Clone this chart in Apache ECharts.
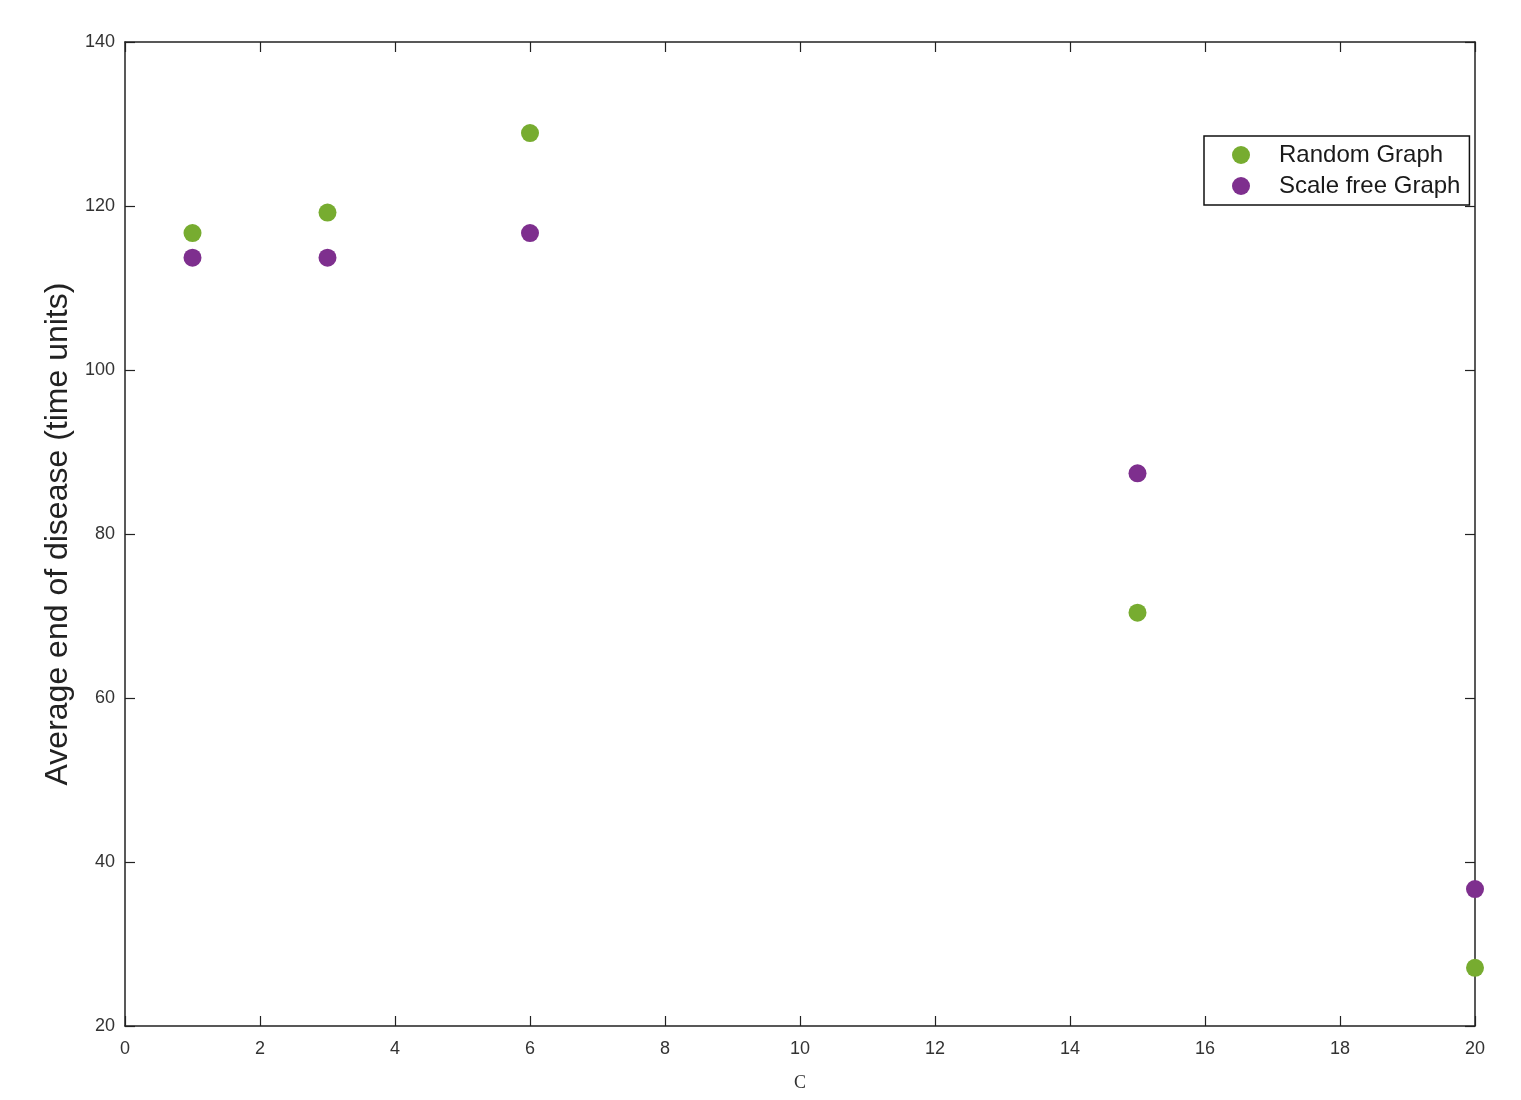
<!DOCTYPE html>
<html>
<head>
<meta charset="utf-8">
<script src="https://cdn.jsdelivr.net/npm/echarts@6/dist/echarts.min.js"></script>
<style>
  html, body { margin: 0; padding: 0; background: #fff; }
  #chart { width: 1521px; height: 1100px; }
</style>
</head>
<body>
<div id="chart"></div>
<script>
// values
const cValues = [1, 3, 6, 15, 20]
const randomGraph = [116.7, 119.2, 128.9, 70.4, 27.1]
const scaleFreeGraph = [113.7, 113.7, 116.7, 87.4, 36.7]

const chart = echarts.init(document.getElementById('chart'))

const tickFont = { fontFamily: 'Liberation Sans, Arial, sans-serif', fontSize: 18, color: '#333' }
const boxLine = { show: true, onZero: false, lineStyle: { color: '#222', width: 1.5 } }
const inTicks = { show: true, inside: true, length: 10, lineStyle: { color: '#222', width: 1.2 } }

function pairs(xs, ys) {
  return xs.map((x, i) => [x, ys[i]])
}

chart.setOption({
  backgroundColor: '#fff',
  animation: false,
  grid: { left: 125, right: 46, top: 42, bottom: 74 },
  legend: {
    orient: 'vertical',
    left: 1204,
    top: 136,
    backgroundColor: '#fff',
    borderColor: '#111',
    borderWidth: 1.5,
    padding: [7, 9, 7, 28],
    itemGap: 7,
    itemWidth: 18,
    itemHeight: 18,
    textStyle: {
      fontFamily: 'Liberation Sans, Arial, sans-serif',
      fontSize: 24,
      color: '#1a1a1a',
      padding: [0, 0, 0, 24]
    },
    data: ['Random Graph', 'Scale free Graph']
  },
  xAxis: [{
    type: 'value',
    min: 0, max: 20, interval: 2,
    name: 'C',
    nameLocation: 'middle',
    nameGap: 48,
    nameTextStyle: { fontFamily: 'Liberation Serif, serif', fontSize: 18, color: '#333' },
    axisLine: boxLine,
    axisTick: inTicks,
    axisLabel: Object.assign({ margin: 14 }, tickFont),
    splitLine: { show: false }
  }, {
    type: 'value',
    position: 'top',
    min: 0, max: 20, interval: 2,
    axisLine: boxLine,
    axisTick: inTicks,
    axisLabel: { show: false },
    splitLine: { show: false }
  }],
  yAxis: [{
    type: 'value',
    min: 20, max: 140, interval: 20,
    name: 'Average end of disease (time units)',
    nameLocation: 'middle',
    nameGap: 50,
    nameTextStyle: { fontFamily: 'Liberation Sans, Arial, sans-serif', fontSize: 32, color: '#222' },
    axisLine: boxLine,
    axisTick: inTicks,
    axisLabel: Object.assign({ margin: 10 }, tickFont),
    splitLine: { show: false }
  }, {
    type: 'value',
    position: 'right',
    min: 20, max: 140, interval: 20,
    axisLine: boxLine,
    axisTick: inTicks,
    axisLabel: { show: false },
    splitLine: { show: false }
  }],
  series: [{
    name: 'Random Graph',
    type: 'scatter',
    symbol: 'circle',
    symbolSize: 18,
    itemStyle: { color: '#77AC30', opacity: 1 },
    data: pairs(cValues, randomGraph)
  }, {
    name: 'Scale free Graph',
    type: 'scatter',
    symbol: 'circle',
    symbolSize: 18,
    itemStyle: { color: '#7E2F8E', opacity: 1 },
    data: pairs(cValues, scaleFreeGraph)
  }]
})
</script>
</body>
</html>
